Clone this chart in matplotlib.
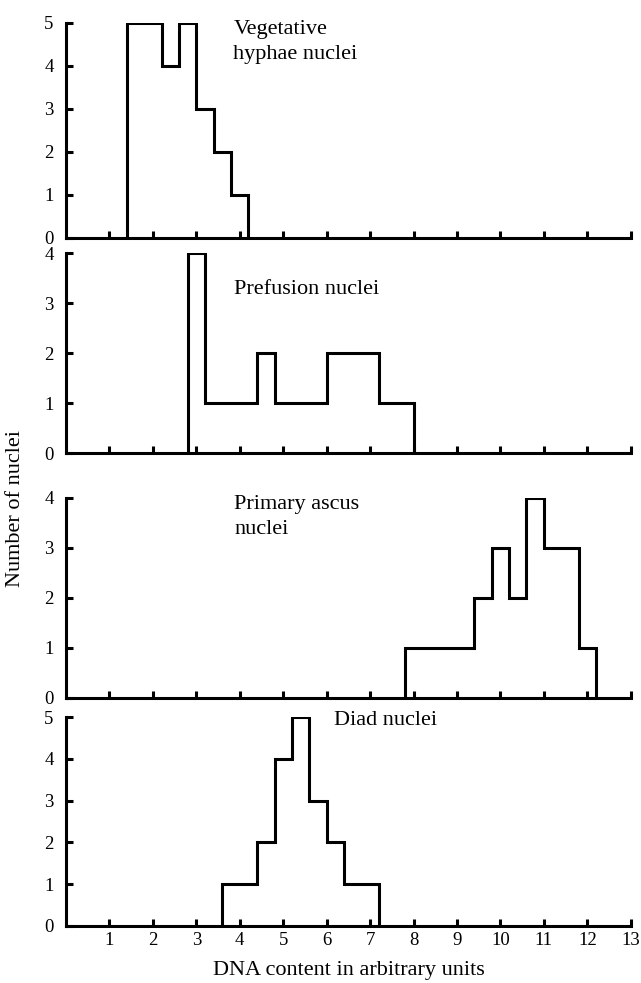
import matplotlib.pyplot as plt
import numpy as np

plt.rcParams['font.family'] = ['Liberation Serif', 'DejaVu Serif']

# bin edges and counts
veg_edges = [1.4, 1.8, 2.2, 2.6, 3.0, 3.4, 3.8, 4.2]
veg_counts = [5, 5, 4, 5, 3, 2, 1]

pref_edges = [2.8, 3.2, 3.6, 4.0, 4.4, 4.8, 5.2, 5.6, 6.0, 6.4, 6.8, 7.2, 7.6, 8.0]
pref_counts = [4, 1, 1, 1, 2, 1, 1, 1, 2, 2, 2, 1, 1]

asc_edges = [7.8, 8.2, 8.6, 9.0, 9.4, 9.8, 10.2, 10.6, 11.0, 11.4, 11.8, 12.2]
asc_counts = [1, 1, 1, 1, 2, 3, 2, 4, 3, 3, 1]

diad_edges = [3.6, 4.0, 4.4, 4.8, 5.2, 5.6, 6.0, 6.4, 6.8, 7.2]
diad_counts = [1, 1, 2, 4, 5, 3, 2, 1, 1]

x_ticks = list(range(1, 14))

panels = [
    (veg_edges, veg_counts, 5, 'Vegetative\nhyphae nuclei', (3.85, 5.06)),
    (pref_edges, pref_counts, 4, 'Prefusion nuclei', (3.87, 3.46)),
    (asc_edges, asc_counts, 4, 'Primary ascus\nnuclei', (3.87, 4.06)),
    (diad_edges, diad_counts, 5, 'Diad nuclei', (6.16, 5.15)),
]

# axes boxes in figure fractions (left, bottom, width, height)
boxes = [
    (0.103, 0.758, 0.881, 0.219),
    (0.103, 0.539, 0.881, 0.2035),
    (0.103, 0.290, 0.881, 0.2035),
    (0.103, 0.058, 0.881, 0.2126),
]

fig = plt.figure(figsize=(6.41, 9.83), dpi=100)

for i, (edges, counts, ymax, label, pos) in enumerate(panels):
    ax = fig.add_axes(boxes[i])
    ax.stairs(counts, edges, color='black', lw=2.2, baseline=0)
    ax.set_xlim(0, 13)
    ax.set_ylim(0, ymax)
    ax.spines['top'].set_visible(False)
    ax.spines['right'].set_visible(False)
    ax.spines['left'].set_linewidth(2.2)
    ax.spines['bottom'].set_linewidth(2.2)
    ax.set_xticks(x_ticks)
    ax.set_yticks(range(0, ymax + 1))
    ax.tick_params(direction='in', length=5, width=2.2, labelsize=13.5)
    ax.tick_params(axis='y', pad=9)
    ax.tick_params(axis='x', pad=4)
    if i < 3:
        ax.set_xticklabels([])
    ax.text(pos[0], pos[1], label, ha='left', va='top', fontsize=16, linespacing=1.45)
    if i == 3:
        ax.set_xlabel('DNA content in arbitrary units', fontsize=16, labelpad=9)

fig.text(0.024, 0.483, 'Number of nuclei', rotation=90, ha='center', va='center', fontsize=16)

fig.savefig('out.png', dpi=100)
